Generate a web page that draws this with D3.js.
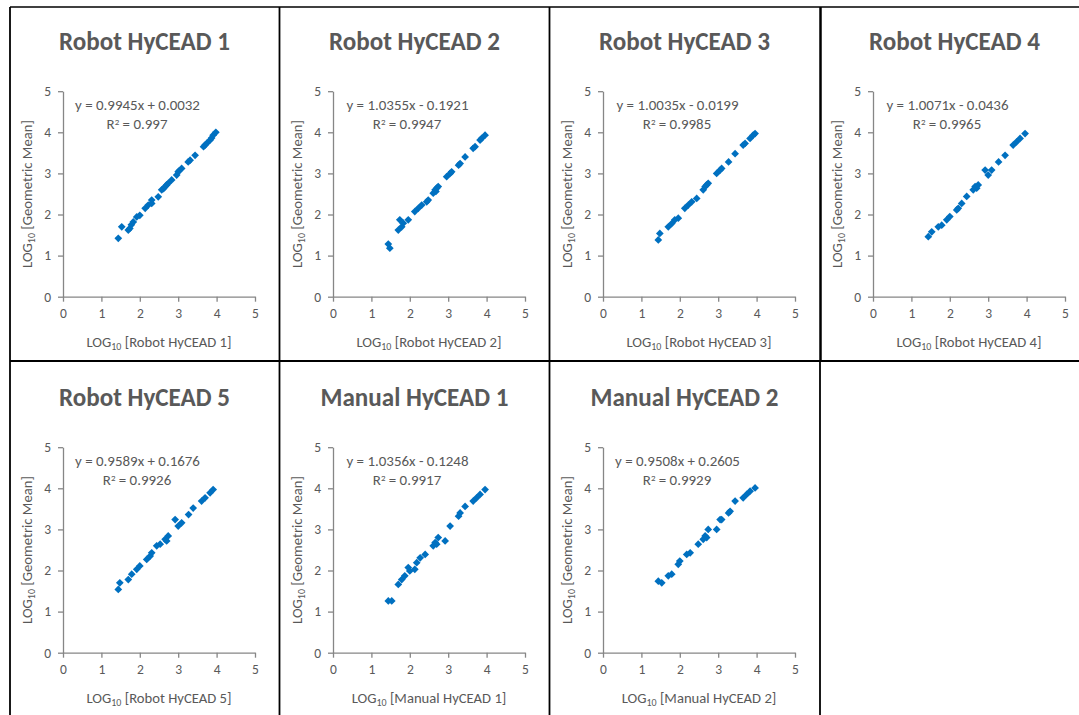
<!DOCTYPE html>
<html><head><meta charset="utf-8">
<script src="https://cdn.jsdelivr.net/npm/d3@7"></script>
<style>body{margin:0;background:#fff}svg{display:block}</style>
</head><body><svg id="c" width="1079" height="715"></svg>
<script>
const titles = ["Robot HyCEAD 1","Robot HyCEAD 2","Robot HyCEAD 3","Robot HyCEAD 4","Robot HyCEAD 5","Manual HyCEAD 1","Manual HyCEAD 2"];
const equations = ["y = 0.9945x + 0.0032","y = 1.0355x - 0.1921","y = 1.0035x - 0.0199","y = 1.0071x - 0.0436","y = 0.9589x + 0.1676","y = 1.0356x - 0.1248","y = 0.9508x + 0.2605"];
const r2Values = ["0.997","0.9947","0.9985","0.9965","0.9926","0.9917","0.9929"];
const yTitle = "[Geometric Mean]";
const axisTicks = [0,1,2,3,4,5];

const robot1X = [1.44,1.53,1.70,1.74,1.78,1.83,1.92,2.00,2.14,2.22,2.31,2.31,2.48,2.57,2.62,2.66,2.70,2.74,2.83,2.96,3.00,3.03,3.09,3.26,3.31,3.44,3.66,3.70,3.74,3.83,3.87,3.91,3.98];
const robot1Y = [1.42,1.70,1.62,1.66,1.75,1.82,1.94,1.98,2.15,2.23,2.35,2.27,2.43,2.60,2.63,2.68,2.72,2.76,2.84,2.96,3.04,3.07,3.12,3.28,3.32,3.44,3.65,3.69,3.73,3.81,3.86,3.93,4.00];
const robot2X = [1.44,1.48,1.74,1.70,1.79,1.83,1.96,2.13,2.22,2.31,2.44,2.48,2.61,2.66,2.70,2.74,2.68,2.96,3.05,3.09,3.27,3.31,3.44,3.65,3.70,3.83,3.87,3.96];
const robot2Y = [1.28,1.18,1.87,1.62,1.70,1.79,1.87,2.07,2.15,2.23,2.31,2.35,2.52,2.60,2.64,2.68,2.56,2.92,3.00,3.04,3.20,3.24,3.40,3.61,3.65,3.81,3.85,3.93];
const robot3X = [1.44,1.48,1.70,1.79,1.87,1.96,2.13,2.22,2.31,2.44,2.61,2.66,2.70,2.74,2.96,3.05,3.09,3.27,3.44,3.65,3.70,3.83,3.91,3.96];
const robot3Y = [1.38,1.54,1.70,1.78,1.87,1.91,2.15,2.23,2.31,2.39,2.60,2.68,2.72,2.76,3.00,3.08,3.12,3.28,3.48,3.69,3.73,3.85,3.93,3.97];
const robot4X = [1.44,1.53,1.70,1.79,1.92,2.00,2.18,2.22,2.31,2.44,2.61,2.66,2.70,2.74,2.92,3.00,3.09,3.27,3.44,3.65,3.74,3.83,3.96];
const robot4Y = [1.46,1.58,1.70,1.74,1.87,1.95,2.11,2.15,2.27,2.44,2.60,2.68,2.64,2.72,3.08,2.96,3.08,3.28,3.44,3.69,3.77,3.85,3.97];
const robot5X = [1.44,1.48,1.70,1.79,1.92,2.00,2.18,2.27,2.31,2.44,2.53,2.66,2.74,2.70,2.92,3.00,3.09,3.27,3.39,3.61,3.70,3.83,3.91];
const robot5Y = [1.54,1.70,1.78,1.91,2.03,2.11,2.27,2.35,2.43,2.60,2.64,2.76,2.84,2.72,3.24,3.08,3.16,3.36,3.52,3.69,3.77,3.89,3.97];
const manual1X = [1.44,1.53,1.70,1.79,1.87,1.96,2.00,2.13,2.18,2.27,2.40,2.61,2.66,2.74,2.70,2.92,3.05,3.27,3.31,3.44,3.65,3.74,3.83,3.96];
const manual1Y = [1.26,1.26,1.66,1.78,1.87,2.07,1.99,2.03,2.19,2.31,2.39,2.60,2.68,2.80,2.64,2.72,3.08,3.32,3.40,3.56,3.69,3.77,3.85,3.97];
const manual2X = [1.44,1.53,1.70,1.79,1.96,2.00,2.18,2.27,2.48,2.61,2.66,2.74,2.70,2.96,3.05,3.09,3.27,3.31,3.44,3.65,3.74,3.83,3.96];
const manual2Y = [1.74,1.70,1.87,1.91,2.15,2.23,2.39,2.43,2.64,2.76,2.84,3.00,2.80,3.00,3.24,3.24,3.40,3.44,3.69,3.77,3.85,3.93,4.01];

const seriesX = [robot1X,robot2X,robot3X,robot4X,robot5X,manual1X,manual2X];
const seriesY = [robot1Y,robot2Y,robot3Y,robot4Y,robot5Y,manual1Y,manual2Y];

const svg = d3.select("#c");
svg.append("rect").attr("width",1079).attr("height",715).attr("fill","#fff");
const FONT = "Calibri, Carlito, Lato, sans-serif";
const TXT = "#595959", AX = "#868686", MK = "#0070C0";

function fitSize(text, weight, base, target) {
  const t = svg.append("text").attr("font-family",FONT).attr("font-size",base).attr("font-weight",weight).text(text);
  const w = t.node().getComputedTextLength(); t.remove();
  return base * target / w;
}
const titleSize = fitSize("Robot HyCEAD 1","bold",20,171);
const eqSize = fitSize("y = 0.9945x + 0.0032","normal",13,125);
const lblSize = fitSize("LOG10 [Robot HyCEAD 1]","normal",13,150);
const tickSize = 13.5;

const colW = 270, rowH = 356;
const x = d3.scaleLinear().domain([0,5]).range([63,255]);
const y = d3.scaleLinear().domain([0,5]).range([296.7,91.2]);

function logLabel(g, rest) {
  g.append("tspan").text("LOG");
  g.append("tspan").attr("font-size", lblSize*0.68).attr("dy", 3).text("10");
  g.append("tspan").attr("dy", -3).text(" " + rest);
}

titles.forEach((title, i) => {
  const col = i % 4, row = Math.floor(i / 4);
  const g = svg.append("g").attr("transform", `translate(${col*colW},${row*rowH})`);

  g.append("text").attr("x",144.5).attr("y",50).attr("text-anchor","middle")
    .attr("font-family",FONT).attr("font-weight","bold").attr("font-size",titleSize)
    .attr("fill",TXT).text(title);

  const xa = g.append("g").attr("transform","translate(0,296.7)")
    .call(d3.axisBottom(x).tickValues(axisTicks).tickSizeInner(5).tickSizeOuter(0).tickPadding(7).tickFormat(d3.format("d")));
  const ya = g.append("g").attr("transform","translate(63,0)")
    .call(d3.axisLeft(y).tickValues(axisTicks).tickSizeInner(5).tickSizeOuter(0).tickPadding(7).tickFormat(d3.format("d")));
  [xa,ya].forEach(a => {
    a.select(".domain").attr("stroke",AX).attr("stroke-width",1.3);
    a.selectAll(".tick line").attr("stroke",AX).attr("stroke-width",1.3);
    a.selectAll(".tick text").attr("fill",TXT).attr("font-family",FONT).attr("font-size",tickSize);
  });

  const xl = g.append("text").attr("x",159).attr("y",347).attr("text-anchor","middle")
    .attr("font-family",FONT).attr("font-size",lblSize).attr("fill",TXT);
  logLabel(xl, "[" + title + "]");
  const yl = g.append("text").attr("transform","translate(32,194) rotate(-90)").attr("text-anchor","middle")
    .attr("font-family",FONT).attr("font-size",lblSize).attr("fill",TXT);
  logLabel(yl, yTitle);

  const pts = seriesX[i].map((v,k)=>[v, seriesY[i][k]]);
  g.append("g").selectAll("path").data(pts).join("path")
    .attr("d", d3.symbol(d3.symbolSquare, 30)())
    .attr("transform", d => `translate(${x(d[0])},${y(d[1])}) rotate(45)`)
    .attr("fill", MK);

  g.append("text").attr("x",137.5).attr("y",110).attr("text-anchor","middle")
    .attr("font-family",FONT).attr("font-size",eqSize).attr("fill",TXT).text(equations[i]);
  const r = g.append("text").attr("x",137).attr("y",129).attr("text-anchor","middle")
    .attr("font-family",FONT).attr("font-size",eqSize).attr("fill",TXT);
  r.append("tspan").text("R");
  r.append("tspan").attr("font-size",eqSize*0.6).attr("dy",-4).text("2");
  r.append("tspan").attr("dy",4).text(" = " + r2Values[i]);
});

// panel borders
const borders = svg.append("g").attr("stroke","#000");
borders.append("line").attr("x1",10).attr("x2",1079).attr("y1",7).attr("y2",7).attr("stroke-width",1.5);
borders.append("line").attr("x1",10).attr("x2",1079).attr("y1",361).attr("y2",361).attr("stroke-width",2);
[10,279.5,549.5].forEach(xx => borders.append("line").attr("x1",xx).attr("x2",xx).attr("y1",7).attr("y2",715).attr("stroke-width",1.8));
borders.append("line").attr("x1",820.5).attr("x2",820.5).attr("y1",7).attr("y2",361).attr("stroke-width",2.5);
borders.append("line").attr("x1",820).attr("x2",820).attr("y1",361).attr("y2",715).attr("stroke-width",1.8);
</script></body></html>
